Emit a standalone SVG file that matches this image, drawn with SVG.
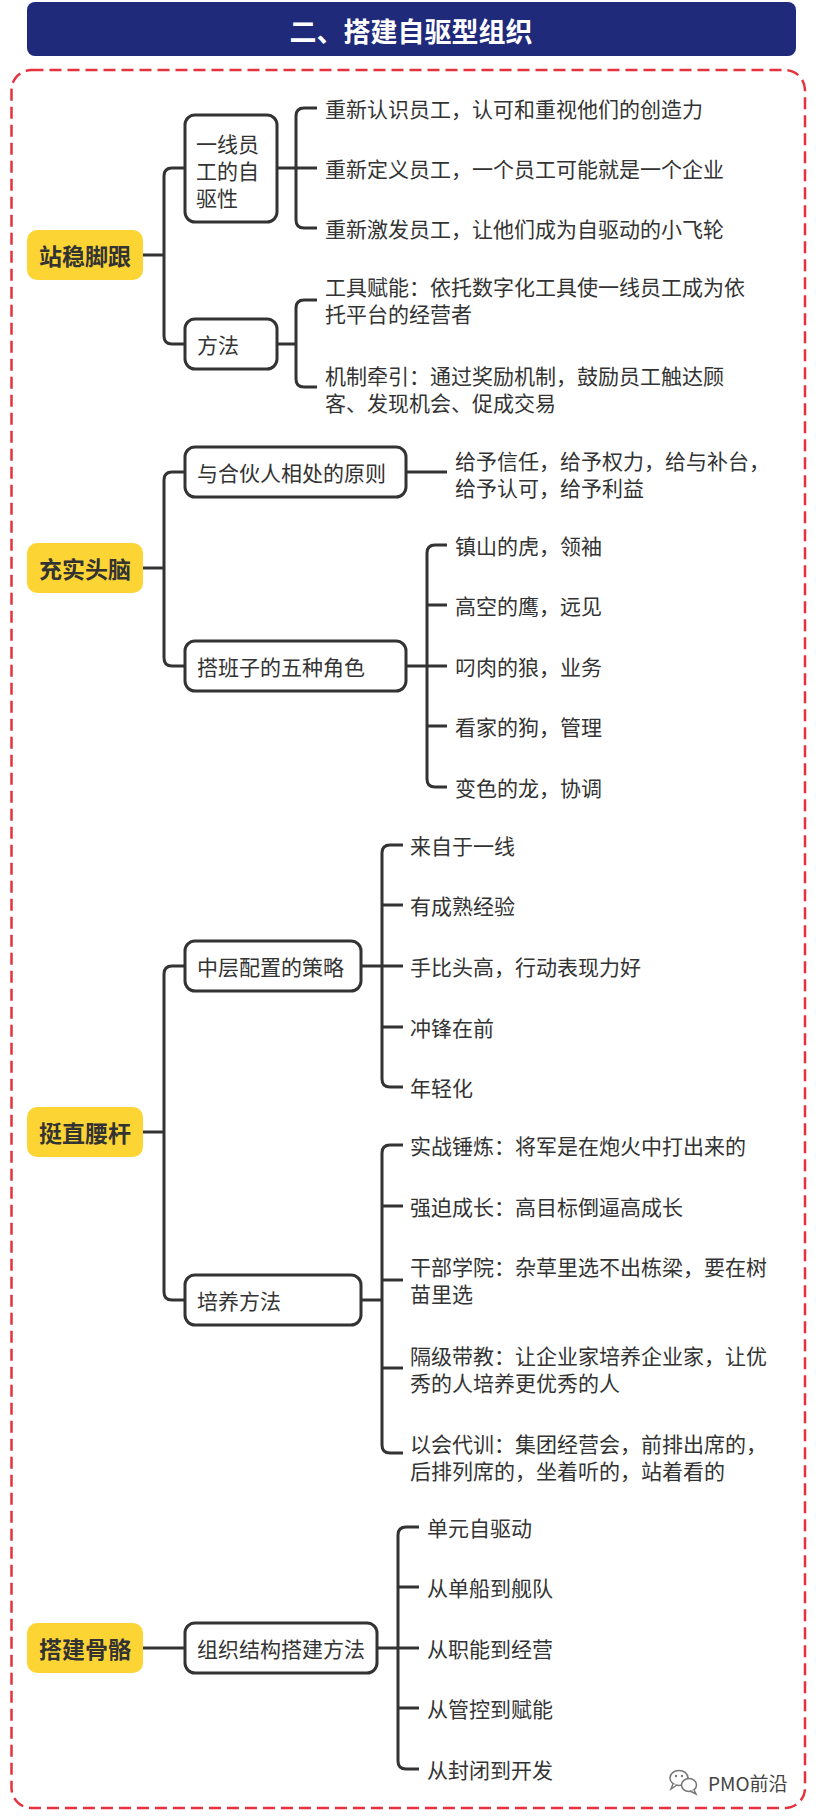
<svg xmlns="http://www.w3.org/2000/svg" width="816" height="1817" viewBox="0 0 816 1817">
<style>
.t{font-family:"Noto Sans CJK SC","Noto Sans",sans-serif;font-size:21px;fill:#333;dominant-baseline:central}
.h{font-family:"Noto Sans CJK SC","Noto Sans",sans-serif;font-size:23px;font-weight:bold;fill:#333;dominant-baseline:central;text-anchor:middle}
.y{fill:#fcd535;stroke:none}
.b{fill:#fff;stroke:#333;stroke-width:3}
.c path{fill:none;stroke:#333;stroke-width:3}
</style>
<rect x="0" y="0" width="816" height="1817" fill="#fff"/>
<g id="title">
<rect x="27" y="2" width="769" height="54" rx="8" fill="#1f2a7b"/>
<text x="411" y="30" font-family="Noto Sans CJK SC,sans-serif" font-size="27" font-weight="bold" fill="#fff" text-anchor="middle" dominant-baseline="central">二、搭建自驱型组织</text>
</g>
<rect id="frame" x="11.5" y="70" width="793.5" height="1738" rx="20" fill="none" stroke="#e5323c" stroke-width="2.5" stroke-dasharray="12 6"/>
<g class="c" id="connectors">
<path d="M143,255H164M185,168H172Q164,168 164,176V336Q164,344 172,344H185"/>
<path d="M143,568H164M185,472H172Q164,472 164,480V658Q164,666 172,666H185"/>
<path d="M143,1132H164M185,966H172Q164,966 164,974V1292Q164,1300 172,1300H185"/>
<path d="M143,1648H185"/>
<path d="M277,168H296M317,108H304Q296,108 296,116V220Q296,228 304,228H317M296,168H317"/>
<path d="M277,344H296M317,300H304Q296,300 296,308V379Q296,387 304,387H317"/>
<path d="M406,472H447"/>
<path d="M406,666H427M447,545H435Q427,545 427,553V779Q427,787 435,787H447M427,605H447M427,666H447M427,726H447"/>
<path d="M361,966H382M403,845H390Q382,845 382,853V1079Q382,1087 390,1087H403M382,905H403M382,966H403M382,1027H403"/>
<path d="M361,1300H382M403,1145H390Q382,1145 382,1153V1445Q382,1453 390,1453H403M382,1206H403M382,1280H403M382,1368H403"/>
<path d="M377,1648H398M419,1527H406Q398,1527 398,1535V1761Q398,1769 406,1769H419M398,1587H419M398,1648H419M398,1708H419"/>
</g>
<g id="n1"><rect class="y" x="27" y="230" width="116" height="50" rx="10"/><text class="h" x="85" y="255">站稳脚跟</text></g>
<g id="n2"><rect class="y" x="27" y="543" width="116" height="50" rx="10"/><text class="h" x="85" y="568">充实头脑</text></g>
<g id="n3"><rect class="y" x="27" y="1107" width="116" height="50" rx="10"/><text class="h" x="85" y="1132">挺直腰杆</text></g>
<g id="n4"><rect class="y" x="27" y="1623" width="116" height="50" rx="10"/><text class="h" x="85" y="1648">搭建骨骼</text></g>
<g id="n1a"><rect class="b" x="185" y="115" width="92" height="107" rx="10"/><text class="t" x="196" y="143">一线员</text><text class="t" x="196" y="170">工的自</text><text class="t" x="196" y="197">驱性</text></g>
<g id="n1b"><rect class="b" x="185" y="319" width="92" height="50" rx="10"/><text class="t" x="197" y="344">方法</text></g>
<g id="n2a"><rect class="b" x="185" y="447" width="221" height="50" rx="10"/><text class="t" x="197" y="472">与合伙人相处的原则</text></g>
<g id="n2b"><rect class="b" x="185" y="641" width="221" height="50" rx="10"/><text class="t" x="197" y="666">搭班子的五种角色</text></g>
<g id="n3a"><rect class="b" x="185" y="941" width="176" height="50" rx="10"/><text class="t" x="197" y="966">中层配置的策略</text></g>
<g id="n3b"><rect class="b" x="185" y="1275" width="176" height="50" rx="10"/><text class="t" x="197" y="1300">培养方法</text></g>
<g id="n4a"><rect class="b" x="185" y="1623" width="192" height="50" rx="10"/><text class="t" x="197" y="1648">组织结构搭建方法</text></g>
<g id="leaves1">
<text class="t" x="325" y="108">重新认识员工，认可和重视他们的创造力</text>
<text class="t" x="325" y="168">重新定义员工，一个员工可能就是一个企业</text>
<text class="t" x="325" y="228">重新激发员工，让他们成为自驱动的小飞轮</text>
<text class="t" x="325" y="286">工具赋能：依托数字化工具使一线员工成为依</text>
<text class="t" x="325" y="313">托平台的经营者</text>
<text class="t" x="325" y="375">机制牵引：通过奖励机制，鼓励员工触达顾</text>
<text class="t" x="325" y="402">客、发现机会、促成交易</text>
</g>
<g id="leaves2">
<text class="t" x="455" y="460">给予信任，给予权力，给与补台，</text>
<text class="t" x="455" y="487">给予认可，给予利益</text>
<text class="t" x="455" y="545">镇山的虎，领袖</text>
<text class="t" x="455" y="605">高空的鹰，远见</text>
<text class="t" x="455" y="666">叼肉的狼，业务</text>
<text class="t" x="455" y="726">看家的狗，管理</text>
<text class="t" x="455" y="787">变色的龙，协调</text>
</g>
<g id="leaves3">
<text class="t" x="410" y="845">来自于一线</text>
<text class="t" x="410" y="905">有成熟经验</text>
<text class="t" x="410" y="966">手比头高，行动表现力好</text>
<text class="t" x="410" y="1027">冲锋在前</text>
<text class="t" x="410" y="1087">年轻化</text>
<text class="t" x="410" y="1145">实战锤炼：将军是在炮火中打出来的</text>
<text class="t" x="410" y="1206">强迫成长：高目标倒逼高成长</text>
<text class="t" x="410" y="1266">干部学院：杂草里选不出栋梁，要在树</text>
<text class="t" x="410" y="1293">苗里选</text>
<text class="t" x="410" y="1355">隔级带教：让企业家培养企业家，让优</text>
<text class="t" x="410" y="1382">秀的人培养更优秀的人</text>
<text class="t" x="410" y="1443">以会代训：集团经营会，前排出席的，</text>
<text class="t" x="410" y="1470">后排列席的，坐着听的，站着看的</text>
</g>
<g id="leaves4">
<text class="t" x="427" y="1527">单元自驱动</text>
<text class="t" x="427" y="1587">从单船到舰队</text>
<text class="t" x="427" y="1648">从职能到经营</text>
<text class="t" x="427" y="1708">从管控到赋能</text>
<text class="t" x="427" y="1769">从封闭到开发</text>
</g>
<g id="watermark">
<ellipse cx="679" cy="1778" rx="9" ry="7.5" fill="#fff" stroke="#777" stroke-width="1.5"/>
<path d="M673,1784 L671,1789 L677,1785" fill="#fff" stroke="#777" stroke-width="1.5"/>
<ellipse cx="689" cy="1785" rx="7.5" ry="6.5" fill="#fff" stroke="#777" stroke-width="1.5"/>
<path d="M694,1790 L696,1794 L690,1791" fill="#fff" stroke="#777" stroke-width="1.5"/>
<circle cx="676" cy="1776" r="1.2" fill="#777"/><circle cx="682" cy="1776" r="1.2" fill="#777"/>
<text x="708" y="1782" font-family="Noto Sans CJK SC,sans-serif" font-size="19" fill="#444" dominant-baseline="central">PMO前沿</text>
</g>
</svg>
